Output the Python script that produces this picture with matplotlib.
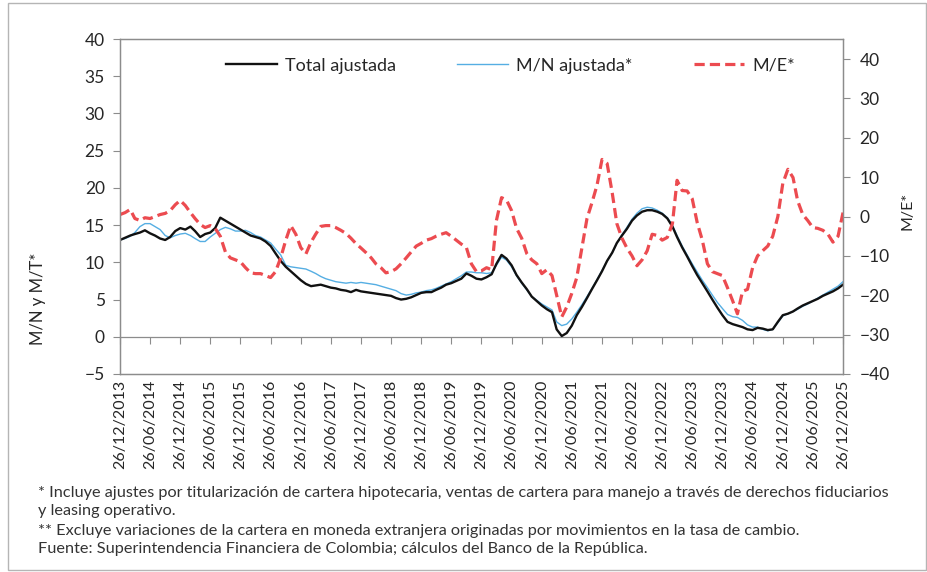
import matplotlib
matplotlib.use("Agg")
import matplotlib.pyplot as plt
from matplotlib.patches import Rectangle
import pandas as pd
import numpy as np

plt.rcParams['font.family'] = ['Lato', 'DejaVu Sans']

# monthly observations, 26/12/2013 .. 26/12/2025
dates = pd.date_range('2013-12-26', periods=145, freq=pd.DateOffset(months=1))

total_ajustada = [
    13.0, 13.3, 13.6, 13.8, 14.0, 14.3, 13.9, 13.6, 13.2, 13.0, 13.4, 14.2,
    14.6, 14.4, 14.8, 14.2, 13.4, 13.8, 14.0, 14.6, 16.0, 15.6, 15.2, 14.8,
    14.4, 14.0, 13.6, 13.4, 13.2, 12.8, 12.2, 11.2, 10.2, 9.4, 8.8, 8.2,
    7.6, 7.1, 6.8, 6.9, 7.0, 6.8, 6.6, 6.5, 6.3, 6.2, 6.0, 6.3,
    6.1, 6.0, 5.9, 5.8, 5.7, 5.6, 5.5, 5.2, 5.0, 5.1, 5.3, 5.6,
    5.9, 6.0, 6.0, 6.3, 6.6, 7.0, 7.2, 7.5, 7.8, 8.5, 8.2, 7.8,
    7.7, 8.0, 8.4, 9.8, 11.0, 10.5, 9.6, 8.3, 7.3, 6.4, 5.4, 4.8,
    4.2, 3.7, 3.3, 1.0, 0.1, 0.5, 1.5, 2.9, 4.0, 5.2, 6.4, 7.6,
    8.8, 10.2, 11.3, 12.6, 13.6, 14.5, 15.6, 16.3, 16.8, 17.0, 17.0, 16.8,
    16.5, 15.9, 14.8, 13.4, 12.0, 10.8, 9.5, 8.3, 7.2, 6.1, 5.0, 3.9,
    2.9, 2.0, 1.7, 1.5, 1.3, 1.0, 0.9, 1.2, 1.1, 0.9, 1.0, 2.0,
    2.9, 3.1, 3.4, 3.8, 4.2, 4.5, 4.8, 5.1, 5.5, 5.8, 6.1, 6.5,
    7.0,
]

mn_ajustada = [
    13.0, 13.2, 13.5, 14.0, 14.8, 15.2, 15.2, 14.8, 14.4, 13.6, 13.3, 13.6,
    13.8, 13.9, 13.6, 13.2, 12.8, 12.8, 13.4, 13.9, 14.4, 14.7, 14.5, 14.2,
    14.2, 14.3, 14.0, 13.6, 13.4, 13.0, 12.6, 11.8, 11.0, 9.6, 9.4, 9.3,
    9.2, 9.1, 8.8, 8.5, 8.1, 7.8, 7.6, 7.4, 7.3, 7.2, 7.3, 7.2,
    7.3, 7.2, 7.1, 7.0, 6.8, 6.6, 6.4, 6.2, 5.8, 5.6, 5.7, 5.9,
    6.0, 6.2, 6.3, 6.5, 6.8, 7.1, 7.4, 7.8, 8.2, 8.7, 8.7, 8.6,
    8.6, 8.5, 8.6, 9.6, 10.7, 10.3, 9.4, 8.2, 7.2, 6.3, 5.4, 4.9,
    4.4, 4.0, 3.6, 2.0, 1.5, 1.7, 2.4, 3.3, 4.3, 5.4, 6.5, 7.7,
    8.9, 10.2, 11.3, 12.6, 13.7, 14.7, 15.8, 16.6, 17.2, 17.4, 17.3, 17.0,
    16.6, 16.0, 15.0, 13.6, 12.2, 11.0, 9.8, 8.7, 7.6, 6.6, 5.6, 4.6,
    3.8, 3.0, 2.7, 2.6, 2.2, 1.6, 1.3, 1.3, 1.0, 0.8, 1.0, 1.9,
    2.8, 3.1, 3.4, 3.7, 4.1, 4.4, 4.8, 5.2, 5.6, 6.0, 6.4, 6.8,
    7.4,
]

me = [
    0.5, 1.0, 1.8, -0.5, -1.0, -0.3, -0.5, 0.0, 0.5, 0.8, 1.5, 3.0,
    4.1, 2.8, 1.0, -0.5, -2.0, -2.8, -2.3, -3.0, -5.0, -9.0, -10.5, -11.0,
    -11.5, -13.0, -14.3, -14.5, -14.5, -15.0, -15.5, -14.0, -10.5, -6.0, -2.3, -4.5,
    -7.9, -9.5, -6.5, -4.5, -2.5, -2.3, -2.3, -2.8, -3.5, -4.3, -5.5, -6.9,
    -8.0, -9.2, -10.5, -12.0, -13.0, -14.3, -14.0, -13.3, -12.0, -10.5, -9.0, -7.5,
    -6.8, -6.0, -5.6, -5.0, -4.5, -4.1, -5.0, -6.0, -7.0, -7.9, -12.0, -14.0,
    -13.8, -13.0, -13.5, -1.0, 4.8, 4.2, 1.5, -3.0, -5.5, -9.4, -11.0, -12.0,
    -14.5, -13.5, -15.0, -20.0, -25.5, -23.0, -19.5, -15.5, -8.0, -0.5, 3.5, 8.0,
    14.5, 13.5, 6.0, -1.8, -5.5, -8.0, -10.0, -12.5, -11.0, -8.7, -4.5, -4.8,
    -6.0, -5.3, -1.8, 9.2, 6.6, 6.5, 4.5, -1.5, -6.0, -12.0, -14.0, -14.5,
    -15.0, -18.1, -21.4, -24.7, -19.0, -18.5, -13.0, -10.0, -8.7, -7.5, -5.0, 0.0,
    8.4, 12.0, 9.9, 4.0, 0.5, -1.0, -2.8, -3.0, -3.5, -4.5, -6.5, -5.0,
    1.0,
]

footnotes = [
    "* Incluye ajustes por titularización de cartera hipotecaria, ventas de cartera para manejo a través de derechos fiduciarios",
    "y leasing operativo.",
    "** Excluye variaciones de la cartera en moneda extranjera originadas por movimientos en la tasa de cambio.",
    "Fuente: Superintendencia Financiera de Colombia; cálculos del Banco de la República.",
]

grey = '#8c8c8c'
txt = '#262626'

fig = plt.figure(figsize=(9.28, 5.72), dpi=100)
fig.patches.append(Rectangle((8 / 928, 2 / 572), 918 / 928, 567 / 572, transform=fig.transFigure,
                             fill=False, edgecolor='#b5b5b5', lw=1.0))

ax = fig.add_axes([120 / 928, 1 - 374 / 572, 723 / 928, 335 / 572])
ax2 = ax.twinx()

l1, = ax.plot(dates, mn_ajustada, color='#55aee3', lw=1.0, label='M/N ajustada*')
l0, = ax.plot(dates, total_ajustada, color='#111111', lw=1.7, label='Total ajustada')
l2, = ax2.plot(dates, me, color='#ec4b50', lw=2.3, dashes=(3.2, 1.6), label='M/E*')

ax.set_xlim(dates[0], dates[-1])
ax.set_ylim(-5, 40)
ax.set_yticks(np.arange(-5, 41, 5))
ax2.set_ylim(-40, 45.1)
ax2.set_yticks(np.arange(-40, 41, 10))

ticks = dates[::6]
ax.set_xticks(ticks)
ax.set_xticklabels([d.strftime('%d/%m/%Y') for d in ticks], rotation=90, fontsize=11.5, color=txt)
ax.tick_params(axis='x', length=0, pad=4)
ax.tick_params(axis='y', length=5, color=grey, labelsize=12.5, colors=txt, pad=6)
ax2.tick_params(axis='y', length=5, color=grey, labelsize=12.5, colors=txt, pad=7)
for a in (ax, ax2):
    for s in a.spines.values():
        s.set_color(grey)
        s.set_linewidth(0.9)

# axis line at zero with half-year tick marks
sec = ax.secondary_xaxis(5 / 45)
sec.set_xticks(ticks)
sec.tick_params(length=5, color=grey, labelbottom=False)
sec.spines['bottom'].set_color(grey)
sec.spines['bottom'].set_linewidth(0.9)

leg = ax.legend(handles=[l0, l1, l2], loc='center', bbox_to_anchor=(0.54, 0.92), ncol=3,
                frameon=False, fontsize=13, handlelength=2.8, columnspacing=3.4, handletextpad=0.45)
for t in leg.get_texts():
    t.set_color(txt)

fig.text(38 / 928, 1 - 299 / 572, 'M/N y M/T*', rotation=90, ha='center', va='center', fontsize=12, color=txt)
fig.text(908 / 928, 1 - 211 / 572, 'M/E*', rotation=90, ha='center', va='center', fontsize=11.5, color=txt)

ys = [493, 511, 531, 549]
for line, y in zip(footnotes, ys):
    fig.text(38 / 928, 1 - y / 572, line, ha='left', va='center', fontsize=11.7, color='#333333')

fig.savefig('out.png', dpi=100)
